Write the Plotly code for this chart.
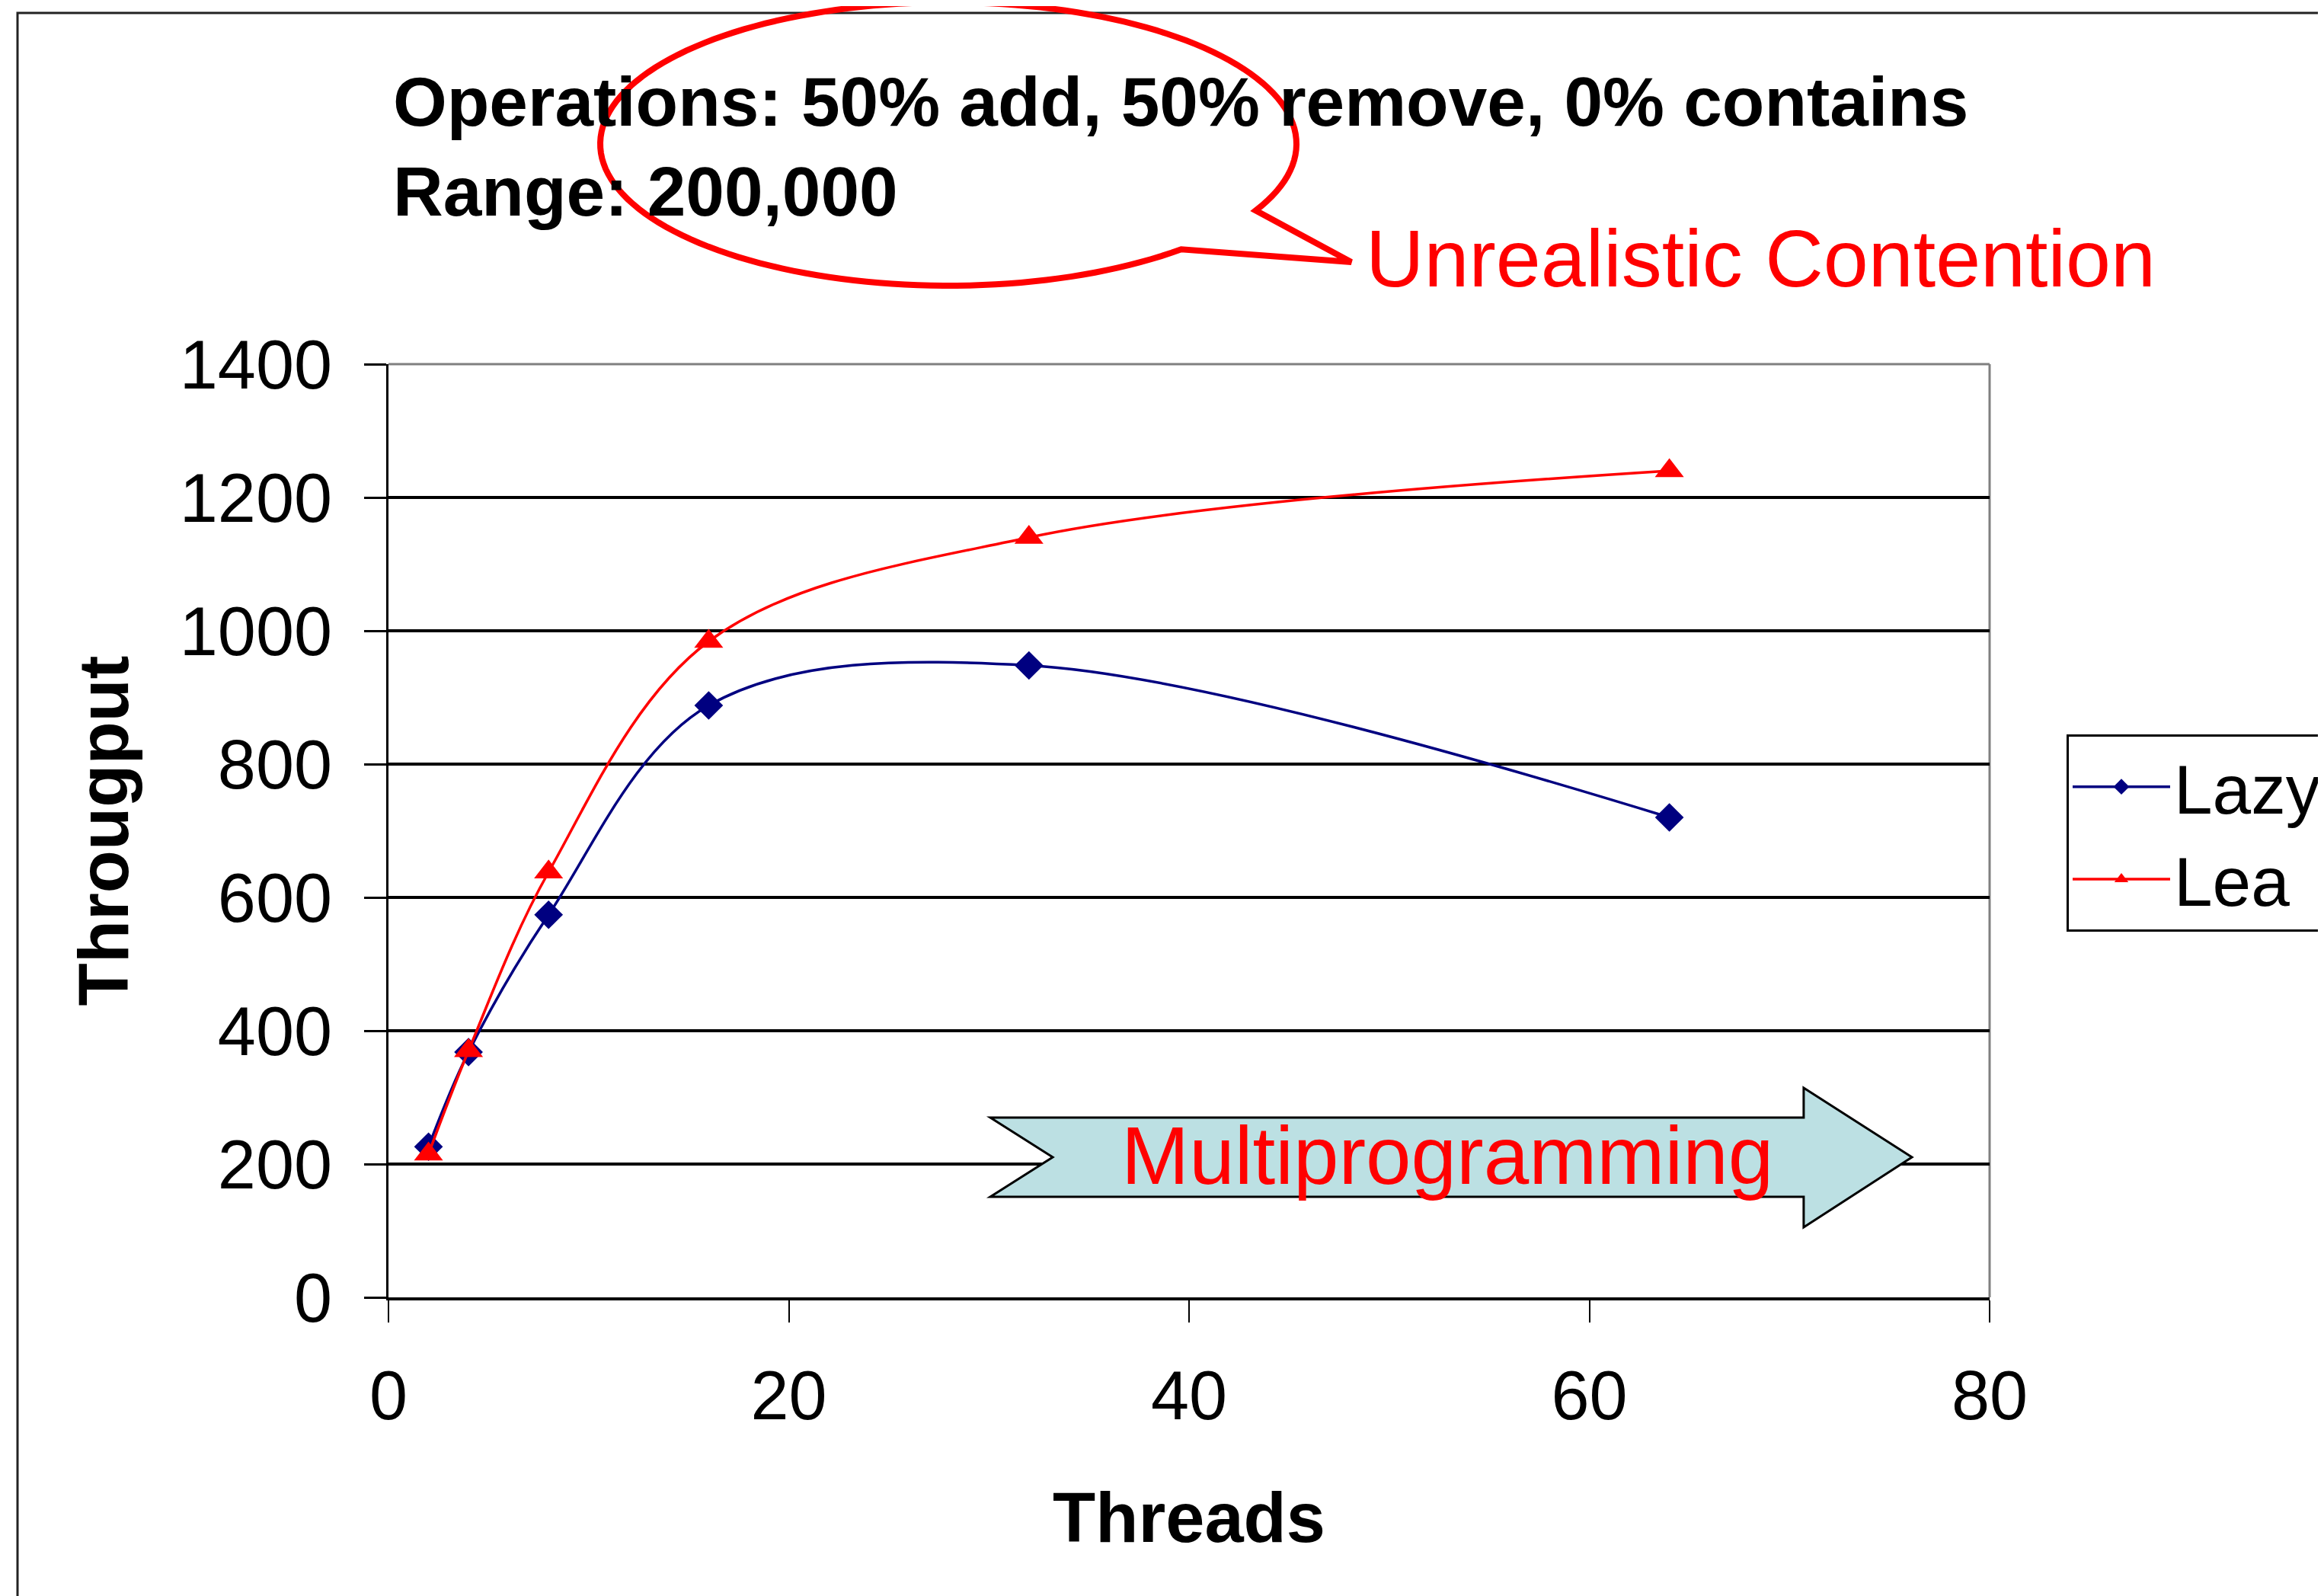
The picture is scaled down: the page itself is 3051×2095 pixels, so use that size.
import numpy as np
import plotly.graph_objects as go

# values
threads = [2, 4, 8, 16, 32, 64]
lazy = [226, 368, 574, 888, 948, 720]
lea = [215, 370, 638, 984, 1140, 1240]

x_ticks = [0, 20, 40, 60, 80]
y_ticks = [0, 200, 400, 600, 800, 1000, 1200, 1400]

title_lines = ["Operations: 50% add, 50% remove, 0% contains", "Range: 200,000"]

# page geometry (pixels); the page body adds an 8px margin.
# The figure runs past the right window edge so the legend gets cut off there.
OFF = 8
W, H = 3300, 2095 - OFF
L, R, T, B = 510 - OFF, 2612 - OFF, 478 - OFF, 1703 - OFF

FONT = "Liberation Sans, Arial, sans-serif"


def px(x):
    # page pixel -> paper x
    return (x - OFF - L) / (R - L)


def py(y):
    # page pixel -> paper y
    return (B - (y - OFF)) / (B - T)


fig = go.Figure()

fig.add_trace(go.Scatter(
    x=threads, y=lazy, name="Lazy", mode="lines+markers",
    line=dict(color="#000080", width=3.5, shape="spline", smoothing=1),
    marker=dict(symbol="diamond", size=29, color="#000080"),
))
fig.add_trace(go.Scatter(
    x=threads, y=lea, name="Lea", mode="lines+markers",
    line=dict(color="#FF0000", width=3.5, shape="spline", smoothing=1),
    marker=dict(symbol="triangle-up", size=33, color="#FF0000"),
))

# speech bubble around the title
cx, cy, rx, ry = 1245, 189, 457, 186
ang = np.radians(np.linspace(48, 28 + 360, 160))
pts = [(cx + rx * np.cos(a), cy + ry * np.sin(a)) for a in ang]
pts.append((1774, 344))
bubble = "M" + " L".join(f"{px(x):.5f},{py(y):.5f}" for x, y in pts) + " Z"

# multiprogramming arrow, in data units
arrow = [(30.07, 269.7), (70.71, 269.7), (70.71, 314.3), (76.12, 210.3),
         (70.71, 105.1), (70.71, 150.9), (30.07, 150.9), (33.19, 210.3)]
arrow_path = "M" + " L".join(f"{x},{y}" for x, y in arrow) + " Z"

shapes = [
    # outer frame
    dict(type="rect", xref="paper", yref="paper",
         x0=px(23), x1=px(3290), y0=py(2300), y1=py(17),
         line=dict(color="#222222", width=3), layer="below"),
    # plot area top / right border
    dict(type="line", xref="paper", yref="paper", x0=0, x1=1, y0=1, y1=1,
         line=dict(color="#808080", width=3), layer="below"),
    dict(type="line", xref="paper", yref="paper", x0=1, x1=1, y0=0, y1=1,
         line=dict(color="#808080", width=3), layer="below"),
    dict(type="path", xref="paper", yref="paper", path=bubble,
         line=dict(color="#FF0000", width=8), fillcolor="rgba(0,0,0,0)"),
    dict(type="path", xref="x", yref="y", path=arrow_path,
         line=dict(color="black", width=3), fillcolor="#BCE0E3", layer="above"),
]

annotations = [
    dict(text="Unrealistic Contention", xref="paper", yref="paper",
         x=px(1791), y=py(339), xanchor="left", yanchor="middle", showarrow=False,
         font=dict(family=FONT, size=106, color="#FF0000")),
    dict(text="Multiprogramming", xref="x", yref="y", x=52.9, y=212.6,
         xanchor="center", yanchor="middle", showarrow=False,
         font=dict(family=FONT, size=107, color="#FF0000")),
]

fig.update_layout(
    width=W, height=H,
    margin=dict(l=L, r=W - R, t=T, b=H - B, autoexpand=False),
    paper_bgcolor="white", plot_bgcolor="white",
    font=dict(family=FONT, size=90, color="black"),
    title=dict(text="<br>".join(title_lines), x=508 / W, xanchor="left",
               xref="container", y=1 - 157 / H, yanchor="top", yref="container",
               font=dict(family=FONT, size=91, color="black", weight="bold")),
    shapes=shapes,
    annotations=annotations,
    legend=dict(x=px(2713), y=py(964), xanchor="left", yanchor="top",
                bgcolor="white", bordercolor="black", borderwidth=3,
                font=dict(family=FONT, size=91), itemwidth=128),
    xaxis=dict(range=[0, 80], tickvals=x_ticks, showgrid=False, zeroline=False,
               showline=True, linecolor="black", linewidth=4,
               ticks="outside", ticklen=29, tickwidth=2, tickcolor="black",
               ticklabelstandoff=19,
               title=dict(text="Threads", standoff=80,
                          font=dict(family=FONT, size=92, weight="bold"))),
    yaxis=dict(range=[0, 1400], tickvals=y_ticks, showgrid=True,
               gridcolor="black", gridwidth=3.5, zeroline=False,
               showline=True, linecolor="black", linewidth=3,
               ticks="outside", ticklen=29, tickwidth=3, tickcolor="black",
               ticklabelstandoff=24,
               title=dict(text="Througput", standoff=37,
                          font=dict(family=FONT, size=92, weight="bold"))),
)

fig.write_html("out.html")
